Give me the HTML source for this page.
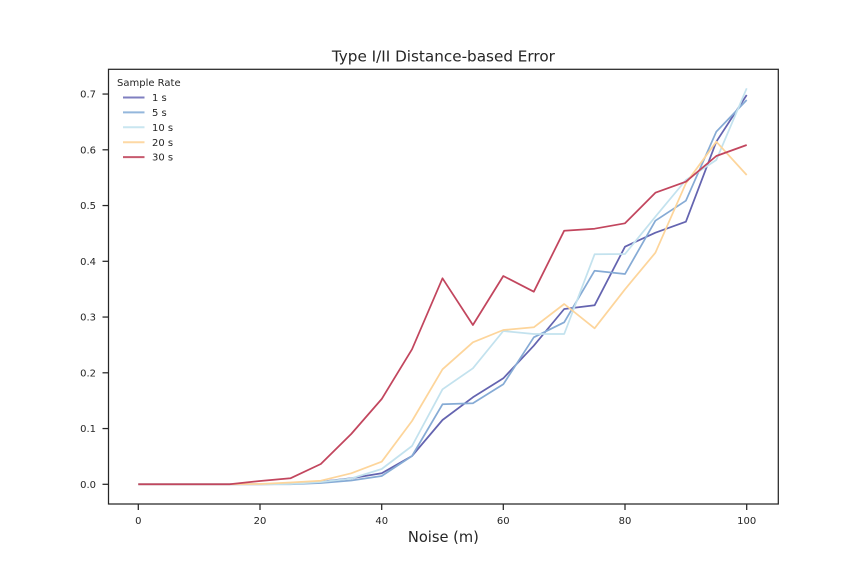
<!DOCTYPE html>
<html>
<head>
<meta charset="utf-8">
<style>
html,body{margin:0;padding:0;background:#fff;}
svg{display:block;}
text{font-family:"DejaVu Sans","Liberation Sans",sans-serif;fill:#262626;}
</style>
</head>
<body>
<svg width="864" height="576" viewBox="0 0 864 576" xmlns="http://www.w3.org/2000/svg">
<rect x="0" y="0" width="864" height="576" fill="#fff"/>

<!-- title -->
<text x="443.4" y="61.5" font-size="15" text-anchor="middle" textLength="223" lengthAdjust="spacingAndGlyphs">Type I/II Distance-based Error</text>

<!-- series -->
<g fill="none" stroke-width="1.75" stroke-linejoin="round" stroke-linecap="butt">
<polyline stroke="#6464b0" points="138.3,484.3 168.7,484.3 199.1,484.3 229.6,484.3 260,484.3 290.4,484 320.8,481.7 351.2,478.3 381.7,473.3 412,456 442.5,420 472.9,397.3 503.3,378.3 533.8,345.7 564.2,309 594.6,305.3 625,246.7 655.4,232.7 685.9,221.7 716.3,141.7 746.7,95"/>
<polyline stroke="#86abd5" points="138.3,484.3 168.7,484.3 199.1,484.3 229.6,484.3 260,484.3 290.4,484.3 320.8,483 351.2,480.5 381.7,476 412,456 442.5,404.3 472.9,403.3 503.3,384.3 533.8,337.3 564.2,322.3 594.6,270.7 625,274 655.4,220.7 685.9,200.7 716.3,131.7 746.7,100"/>
<polyline stroke="#c3e2ee" points="138.3,484.3 168.7,484.3 199.1,484.3 229.6,484.3 260,484.3 290.4,484 320.8,482 351.2,478.5 381.7,469 412,446 442.5,389.3 472.9,368.3 503.3,331 533.8,334 564.2,334 594.6,254.3 625,254 655.4,216.7 685.9,180 716.3,160 746.7,88.3"/>
<polyline stroke="#fdd59b" points="138.3,484.3 168.7,484.3 199.1,484.3 229.6,484.3 260,484 290.4,482.5 320.8,480.7 351.2,473.3 381.7,461.7 412,421 442.5,369.3 472.9,342.3 503.3,330 533.8,327.3 564.2,304 594.6,328.3 625,289.3 655.4,252.7 685.9,183.3 716.3,141.7 746.7,175"/>
<polyline stroke="#c2465e" points="138.3,484.3 168.7,484.3 199.1,484.3 229.6,484.3 260,481 290.4,478.3 320.8,464 351.2,434 381.7,399 412,349.3 442.5,278.3 472.9,325 503.3,276 533.8,291.7 564.2,230.7 594.6,228.7 625,223.3 655.4,192.7 685.9,181.7 716.3,156 746.7,145"/>
</g>

<!-- axes spines -->
<rect x="108.5" y="69.3" width="669.8" height="434.7" fill="none" stroke="#262626" stroke-width="1.25"/>

<!-- y ticks -->
<g stroke="#262626" stroke-width="1.25">
<line x1="102.5" y1="484.3" x2="108.5" y2="484.3"/>
<line x1="102.5" y1="428.55" x2="108.5" y2="428.55"/>
<line x1="102.5" y1="372.8" x2="108.5" y2="372.8"/>
<line x1="102.5" y1="317.05" x2="108.5" y2="317.05"/>
<line x1="102.5" y1="261.3" x2="108.5" y2="261.3"/>
<line x1="102.5" y1="205.55" x2="108.5" y2="205.55"/>
<line x1="102.5" y1="149.8" x2="108.5" y2="149.8"/>
<line x1="102.5" y1="94.05" x2="108.5" y2="94.05"/>
</g>
<g font-size="10" text-anchor="end">
<text x="96" y="487.9">0.0</text>
<text x="96" y="432.2">0.1</text>
<text x="96" y="376.4">0.2</text>
<text x="96" y="320.7">0.3</text>
<text x="96" y="264.9">0.4</text>
<text x="96" y="209.2">0.5</text>
<text x="96" y="153.4">0.6</text>
<text x="96" y="97.7">0.7</text>
</g>

<!-- x ticks -->
<g stroke="#262626" stroke-width="1.25">
<line x1="138.3" y1="504" x2="138.3" y2="510"/>
<line x1="260" y1="504" x2="260" y2="510"/>
<line x1="381.7" y1="504" x2="381.7" y2="510"/>
<line x1="503.3" y1="504" x2="503.3" y2="510"/>
<line x1="625" y1="504" x2="625" y2="510"/>
<line x1="746.7" y1="504" x2="746.7" y2="510"/>
</g>
<g font-size="10" text-anchor="middle">
<text x="138.3" y="524.2">0</text>
<text x="260" y="524.2">20</text>
<text x="381.7" y="524.2">40</text>
<text x="503.3" y="524.2">60</text>
<text x="625" y="524.2">80</text>
<text x="746.7" y="524.2">100</text>
</g>

<!-- x label -->
<text x="443.4" y="541.8" font-size="15" text-anchor="middle" textLength="71" lengthAdjust="spacingAndGlyphs">Noise (m)</text>

<!-- legend -->
<text x="117" y="86" font-size="10">Sample Rate</text>
<g stroke-width="2">
<line x1="123" y1="97.5" x2="144.5" y2="97.5" stroke="#7f7fc0"/>
<line x1="123" y1="112.4" x2="144.5" y2="112.4" stroke="#94b7dc"/>
<line x1="123" y1="127.3" x2="144.5" y2="127.3" stroke="#c9e6f0"/>
<line x1="123" y1="142.2" x2="144.5" y2="142.2" stroke="#fdd8a4"/>
<line x1="123" y1="157.1" x2="144.5" y2="157.1" stroke="#c75a6e"/>
</g>
<g font-size="10">
<text x="152" y="101.1">1 s</text>
<text x="152" y="116">5 s</text>
<text x="152" y="130.9">10 s</text>
<text x="152" y="145.8">20 s</text>
<text x="152" y="160.7">30 s</text>
</g>
</svg>
</body>
</html>
